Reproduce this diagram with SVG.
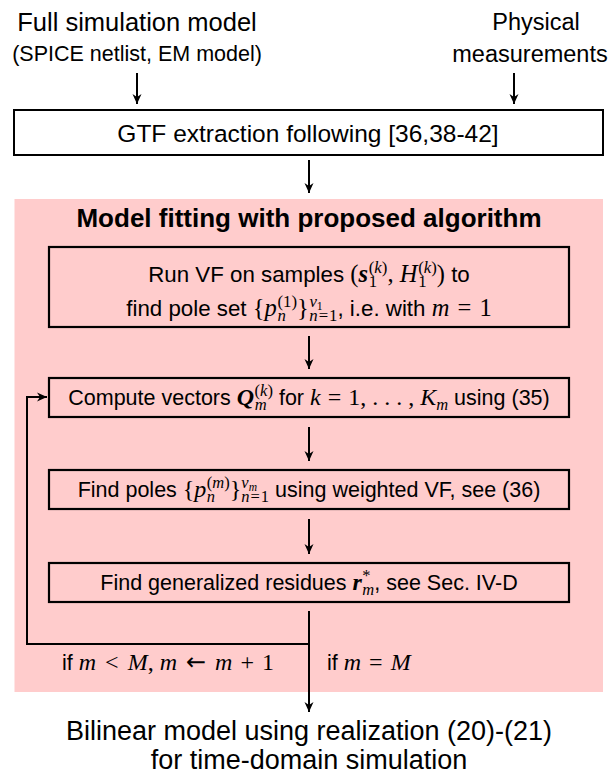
<svg xmlns="http://www.w3.org/2000/svg" width="608" height="774" viewBox="0 0 608 774">
<defs>
<style>
.t{font-family:"Liberation Sans",Arial,sans-serif;fill:#000}
.mi{font-family:"Liberation Serif",serif;font-style:italic}
.mr{font-family:"Liberation Serif",serif;font-style:normal}
.mb{font-family:"Liberation Serif",serif;font-style:italic;font-weight:bold}
.ar{font-family:"DejaVu Sans",sans-serif;font-style:normal}
.box{fill:none;stroke:#000;stroke-width:2.2}
.wbox{fill:#fff;stroke:#000;stroke-width:2}
.ln{fill:none;stroke:#000;stroke-width:2}
</style>
<marker id="ah" viewBox="-11 -6 13 12" refX="0" refY="0" markerWidth="13" markerHeight="12" markerUnits="userSpaceOnUse" orient="auto">
<path d="M0,0 L-10,-4.5 L-7,0 L-10,4.5 Z" fill="#000"/>
</marker>
</defs>
<rect width="608" height="774" fill="#fff"/>

<g id="src-sim">
<text class="t" x="137" y="31" font-size="25.5" text-anchor="middle">Full simulation model</text>
<text class="t" x="137" y="61" font-size="21.5" text-anchor="middle">(SPICE netlist, EM model)</text>
</g>
<g id="src-meas">
<text class="t" x="536" y="30" font-size="23.5" text-anchor="middle">Physical</text>
<text class="t" x="530" y="62" font-size="23.5" text-anchor="middle">measurements</text>
</g>
<g id="gtf">
<rect class="wbox" x="14" y="110" width="589" height="45"/>
<text class="t" x="308" y="142" font-size="24.5" text-anchor="middle">GTF extraction following [36,38-42]</text>
</g>

<g id="fitting">
<rect x="14.5" y="199" width="588.5" height="493" fill="#ffcccc"/>
<text class="t" x="309" y="227" font-size="26" font-weight="bold" text-anchor="middle">Model fitting with proposed algorithm</text>
</g>

<g id="step1">
<rect class="box" x="49" y="247" width="520" height="80"/>
<text class="t" x="309" y="282" font-size="22.3" text-anchor="middle">Run VF on samples <tspan class="mr" font-size="24.5">(</tspan><tspan class="mb" font-size="24.5">s</tspan><tspan font-size="16.8" dy="-9" dx="0.8"><tspan class="mr">(</tspan><tspan class="mi">k</tspan><tspan class="mr">)</tspan></tspan><tspan class="mr" font-size="16.8" dx="-18.6" dy="14">1</tspan><tspan class="mr" font-size="24.5" dx="10.2" dy="-5">,  </tspan><tspan class="mi" font-size="24.5">H</tspan><tspan font-size="16.8" dy="-9" dx="0.8"><tspan class="mr">(</tspan><tspan class="mi">k</tspan><tspan class="mr">)</tspan></tspan><tspan class="mr" font-size="16.8" dx="-18.6" dy="14">1</tspan><tspan class="mr" font-size="24.5" dx="10.2" dy="-5">)</tspan> to</text>
<text class="t" x="309" y="316" font-size="22.3" text-anchor="middle">find pole set <tspan class="mr" font-size="24.5">{</tspan><tspan class="mi" font-size="24.5">p</tspan><tspan class="mr" font-size="16.8" dy="-9" dx="0.8">(1)</tspan><tspan class="mi" font-size="16.8" dx="-19.6" dy="14">n</tspan><tspan class="mr" font-size="24.5" dx="11.2" dy="-5">}</tspan><tspan class="mi" font-size="16.8" dy="-9" dx="0.5">ν</tspan><tspan class="mr" font-size="11.8" dy="3">1</tspan><tspan class="mi" font-size="16.8" dx="-13.5" dy="11">n</tspan><tspan class="mr" font-size="16.8" dx="1">=</tspan><tspan class="mr" font-size="16.8" dx="1">1</tspan><tspan dy="-5">, i.e. with </tspan><tspan class="mi" font-size="24.5">m</tspan><tspan class="mr" font-size="24.5" dx="2"> = </tspan><tspan class="mr" font-size="24.5" dx="2">1</tspan></text>
</g>

<g id="step2">
<rect class="box" x="49" y="378" width="520" height="39"/>
<text class="t" x="309" y="405" font-size="21.5" text-anchor="middle">Compute vectors <tspan class="mb" font-size="24">Q</tspan><tspan font-size="16.5" dy="-9" dx="0.5"><tspan class="mr">(</tspan><tspan class="mi">k</tspan><tspan class="mr">)</tspan></tspan><tspan class="mi" font-size="16.5" dx="-18.3" dy="14">m</tspan><tspan dx="6.4" dy="-5"> for </tspan><tspan class="mi" font-size="24">k</tspan><tspan class="mr" font-size="24" dx="1"> = </tspan><tspan class="mr" font-size="24" dx="1">1, . . . , </tspan><tspan class="mi" font-size="24">K</tspan><tspan class="mi" font-size="16.5" dy="5">m</tspan><tspan dy="-5"> using (35)</tspan></text>
</g>

<g id="step3">
<rect class="box" x="49" y="470" width="520" height="39"/>
<text class="t" x="309" y="497" font-size="21.5" text-anchor="middle">Find poles <tspan class="mr" font-size="24">{</tspan><tspan class="mi" font-size="24">p</tspan><tspan font-size="16.5" dy="-9" dx="0.5"><tspan class="mr">(</tspan><tspan class="mi">m</tspan><tspan class="mr">)</tspan></tspan><tspan class="mi" font-size="16.5" dx="-22.9" dy="14">n</tspan><tspan class="mr" font-size="24" dx="14.65" dy="-5">}</tspan><tspan class="mi" font-size="16.5" dy="-9">ν</tspan><tspan class="mi" font-size="11.5" dy="3">m</tspan><tspan class="mi" font-size="16.5" dx="-15.7" dy="11">n</tspan><tspan class="mr" font-size="16.5" dx="1">=</tspan><tspan class="mr" font-size="16.5" dx="1">1</tspan><tspan dy="-5"> using weighted VF, see (36)</tspan></text>
</g>

<g id="step4">
<rect class="box" x="49" y="563" width="520" height="39"/>
<text class="t" x="309" y="590" font-size="21.5" text-anchor="middle">Find generalized residues <tspan class="mb" font-size="24">r</tspan><tspan class="mr" font-size="16.5" dy="-9" dx="0.5">*</tspan><tspan class="mi" font-size="16.5" dx="-8.25" dy="14">m</tspan><tspan dy="-5">, see Sec. IV-D</tspan></text>
</g>

<g id="output">
<text class="t" x="309" y="740" font-size="27" text-anchor="middle">Bilinear model using realization (20)-(21)</text>
<text class="t" x="309" y="769" font-size="27" text-anchor="middle">for time-domain simulation</text>
</g>

<g id="connectors">
<line class="ln" x1="137" y1="73" x2="137" y2="104" marker-end="url(#ah)"/>
<line class="ln" x1="514" y1="73" x2="514" y2="104" marker-end="url(#ah)"/>
<line class="ln" x1="309" y1="160" x2="309" y2="193" marker-end="url(#ah)"/>
<line class="ln" x1="309" y1="336" x2="309" y2="369" marker-end="url(#ah)"/>
<line class="ln" x1="309" y1="427" x2="309" y2="461" marker-end="url(#ah)"/>
<line class="ln" x1="309" y1="519" x2="309" y2="554" marker-end="url(#ah)"/>
<line class="ln" x1="309" y1="611" x2="309" y2="712" marker-end="url(#ah)"/>
<polyline class="ln" points="309,644 27,644 27,397 47,397" marker-end="url(#ah)"/>
<text class="t" x="62" y="670" font-size="21.5">if <tspan class="mi" font-size="24">m</tspan><tspan class="mr" font-size="24" dx="3"> &lt; </tspan><tspan class="mi" font-size="24" dx="3">M</tspan><tspan class="mr" font-size="24">, </tspan><tspan class="mi" font-size="24">m</tspan><tspan class="mr" font-size="24" dx="3"> </tspan><tspan class="ar" font-size="24">←</tspan><tspan class="mr" font-size="24" dx="3"> </tspan><tspan class="mi" font-size="24">m</tspan><tspan class="mr" font-size="24" dx="2"> + </tspan><tspan class="mr" font-size="24" dx="2">1</tspan></text>
<text class="t" x="327" y="670" font-size="21.5">if <tspan class="mi" font-size="24">m</tspan><tspan class="mr" font-size="24" dx="2"> = </tspan><tspan class="mi" font-size="24" dx="2">M</tspan></text>
</g>
</svg>
